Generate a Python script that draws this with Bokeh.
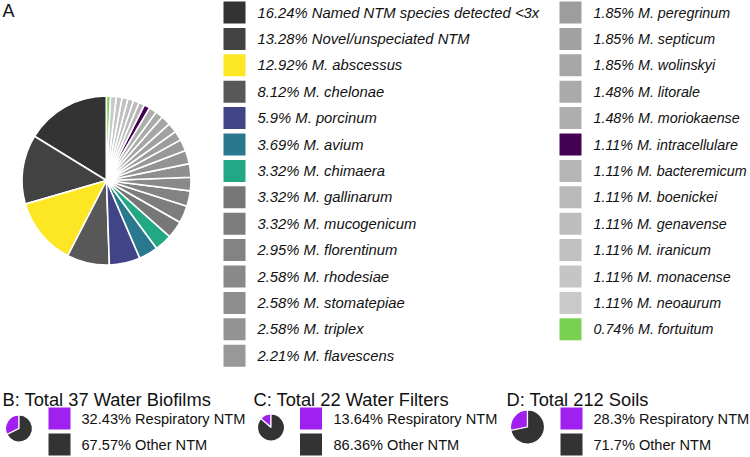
import math
from bokeh.plotting import figure
from bokeh.models import Range1d, ColumnDataSource
from bokeh.core.properties import value
from bokeh.embed import file_html
from bokeh.resources import INLINE

# ---------------- data ----------------
species = [
    "Named NTM species detected <3x", "Novel/unspeciated NTM", "M. abscessus",
    "M. chelonae", "M. porcinum", "M. avium", "M. chimaera", "M. gallinarum",
    "M. mucogenicum", "M. florentinum", "M. rhodesiae", "M. stomatepiae",
    "M. triplex", "M. flavescens", "M. peregrinum", "M. septicum",
    "M. wolinskyi", "M. litorale", "M. moriokaense", "M. intracellulare",
    "M. bacteremicum", "M. boenickei", "M. genavense", "M. iranicum",
    "M. monacense", "M. neoaurum", "M. fortuitum",
]
pct_A = [16.24, 13.28, 12.92, 8.12, 5.9, 3.69, 3.32, 3.32, 3.32, 2.95,
         2.58, 2.58, 2.58, 2.21, 1.85, 1.85, 1.85, 1.48, 1.48, 1.11,
         1.11, 1.11, 1.11, 1.11, 1.11, 1.11, 0.74]
colors_A = [
    "#333333", "#424242", "#FDE725", "#585858", "#414487", "#2A788E",
    "#22A884", "#777777", "#7D7D7D", "#838383", "#898989", "#8E8E8E",
    "#939393", "#989898", "#9D9D9D", "#A1A1A1", "#A6A6A6", "#AAAAAA",
    "#AEAEAE", "#440154", "#B6B6B6", "#BABABA", "#BEBEBE", "#C1C1C1",
    "#C5C5C5", "#C9C9C9", "#7AD151",
]

groups = ["Respiratory NTM", "Other NTM"]
group_colors = ["#A020F0", "#333333"]
panel_titles = ["B: Total 37 Water Biofilms", "C: Total 22 Water Filters",
                "D: Total 212 Soils"]
pct_B = [32.43, 67.57]
pct_C = [13.64, 86.36]
pct_D = [28.3, 71.7]

# ---------------- figure ----------------
W, H = 750, 457
p = figure(width=W, height=H, output_backend="svg", toolbar_location=None,
           x_range=Range1d(0, W), y_range=Range1d(0, H),
           min_border=0)
p.axis.visible = False
p.grid.visible = False
p.outline_line_color = None
p.background_fill_color = "white"


def Y(img_y):
    return H - img_y


FONT = value("Liberation Sans")


def pie(values, cols, cx, cy, r, lw):
    tot = sum(values)
    starts, ends = [], []
    c = 0.0
    for v in values:
        starts.append(math.pi / 2 + 2 * math.pi * c / tot)
        c += v
        ends.append(math.pi / 2 + 2 * math.pi * c / tot)
    src = ColumnDataSource(dict(x=[cx] * len(values), y=[Y(cy)] * len(values),
                                s=starts, e=ends, c=cols))
    p.wedge(x="x", y="y", radius=r, start_angle="s", end_angle="e",
            fill_color="c", line_color="white", line_width=lw, source=src)


# Panel A
p.text(x=[2], y=[Y(10)], text=["A"], text_font=FONT, text_font_size="18px",
       text_baseline="middle", text_color="#111111")
pie(pct_A, colors_A, 106, 180, 84.5, 1.6)

labels_A = [f"{v}% {n}" for v, n in zip(pct_A, species)]
n1 = 14
pitch = 26.4
sq_x, tx_x, sq_y = [], [], []
for i in range(len(species)):
    col = 0 if i < n1 else 1
    row = i if i < n1 else i - n1
    sq_x.append(234 if col == 0 else 570)
    tx_x.append(257 if col == 0 else 593)
    sq_y.append(Y(12 + row * pitch))
p.rect(x=sq_x, y=sq_y, width=22, height=22, fill_color=colors_A,
       line_color=None)
p.text(x=tx_x[:n1], y=sq_y[:n1], text=labels_A[:n1], text_font=FONT,
       text_font_style="italic", text_font_size="14.8px",
       text_baseline="middle", text_color="#111111")
p.text(x=tx_x[n1:], y=sq_y[n1:], text=labels_A[n1:], text_font=FONT,
       text_font_style="italic", text_font_size="14.3px",
       text_baseline="middle", text_color="#111111")

# Panels B, C, D
panels = [pct_B, pct_C, pct_D]
title_x = [2, 253, 506]
pie_cx = [18.5, 270.5, 527]
pie_cy = [428, 427, 426.5]
pie_r = [13.5, 13.5, 17]
sqx = [59, 310.5, 571]
txx = [81, 333, 593]
rows_y = [418, 444]
for k, vals in enumerate(panels):
    p.text(x=[title_x[k]], y=[Y(398.5)], text=[panel_titles[k]],
           text_font=FONT, text_font_size="18.3px", text_baseline="middle",
           text_color="#111111")
    pie(vals, group_colors, pie_cx[k], pie_cy[k], pie_r[k], 1.2)
    p.rect(x=[sqx[k]] * 2, y=[Y(v) for v in rows_y], width=22, height=22,
           fill_color=group_colors, line_color=None)
    p.text(x=[txx[k]] * 2, y=[Y(v) for v in rows_y],
           text=[f"{v}% {g}" for v, g in zip(vals, groups)],
           text_font=FONT, text_font_size="14.6px", text_baseline="middle",
           text_color="#111111")

open("out.html", "w").write(file_html(p, INLINE))
